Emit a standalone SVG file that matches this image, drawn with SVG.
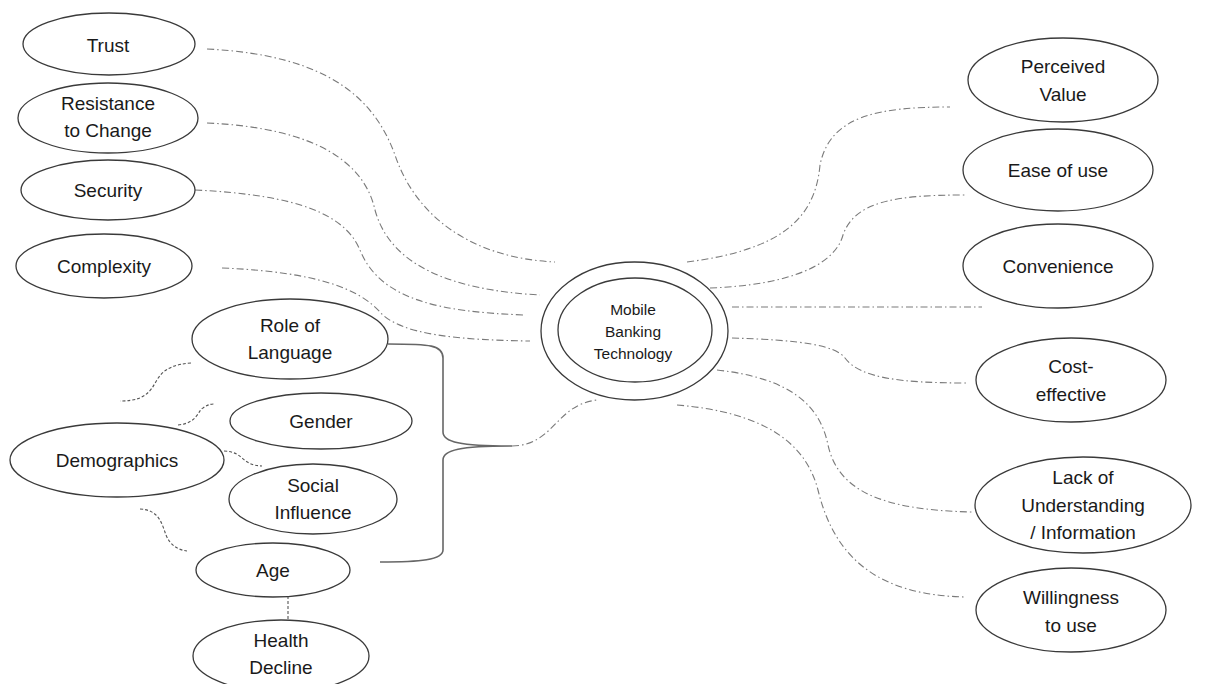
<svg xmlns="http://www.w3.org/2000/svg" width="1221" height="684" viewBox="0 0 1221 684">
<style>
.n ellipse{fill:#fff;stroke:#3a3a3a;stroke-width:1.3}
text{font-family:"Liberation Sans",Arial,sans-serif;font-size:19px;fill:#1a1a1a;text-anchor:middle}
.c text{font-size:15.5px}
.dd{fill:none;stroke:#7a7a7a;stroke-width:1.1;stroke-dasharray:7 3 1.5 3}
.ds{fill:none;stroke:#555;stroke-width:1.1;stroke-dasharray:3 2}
.br{fill:none;stroke:#666;stroke-width:1.6}
</style>
<rect width="1221" height="684" fill="#fff"/>
<g id="connectors">
<path class="dd" d="M207,49 C330,55 375,100 395,155 C415,215 470,258 555,262"/>
<path class="dd" d="M207,123 C320,128 365,165 375,210 C390,265 450,290 540,295"/>
<path class="dd" d="M195,190 C300,195 345,215 360,250 C380,300 440,312 525,315"/>
<path class="dd" d="M222,268 C320,272 360,290 380,312 C400,335 460,340 530,341"/>
<path class="dd" d="M687,262 C780,250 815,220 820,165 C830,115 880,107 950,107"/>
<path class="dd" d="M710,288 C790,285 835,265 843,235 C855,200 900,195 965,195"/>
<path class="dd" d="M732,307 L982,307"/>
<path class="dd" d="M732,338 C800,340 835,345 845,358 C860,378 900,383 967,383"/>
<path class="dd" d="M717,370 C790,378 820,405 828,445 C838,490 880,510 972,512"/>
<path class="dd" d="M677,405 C760,412 805,440 818,490 C835,560 880,595 965,597"/>
<path class="dd" d="M512,446 C555,445 555,405 597,400"/>
<path class="br" d="M388,344 C430,344 443,345 443,358 L443,432 C443,442 460,446 512,446 C460,446 443,450 443,460 L443,550 C443,560 420,562 380,562"/>
<path class="ds" d="M191,363 C160,365 158,380 152,388 C145,398 135,401 120,401"/>
<path class="ds" d="M178,425 C198,423 198,410 203,408 C207,405 210,404 215,404"/>
<path class="ds" d="M224,451 C245,452 240,465 262,466"/>
<path class="ds" d="M140,509 C160,510 162,525 166,535 C170,545 178,550 187,551"/>
<path class="ds" d="M288,596 L288,620"/>
</g>
<g id="center" class="n c">
<ellipse cx="634.5" cy="331" rx="93.5" ry="69"/>
<ellipse cx="635" cy="330" rx="77" ry="52"/>
<text x="633" y="315">Mobile</text>
<text x="633" y="337">Banking</text>
<text x="633" y="359">Technology</text>
</g>
<g id="trust" class="n"><ellipse cx="109" cy="44" rx="86" ry="31"/><text x="108" y="52">Trust</text></g>
<g id="resistance" class="n"><ellipse cx="108" cy="118" rx="90" ry="35"/><text x="108" y="110">Resistance</text><text x="108" y="137">to Change</text></g>
<g id="security" class="n"><ellipse cx="108" cy="190" rx="87" ry="30"/><text x="108" y="197">Security</text></g>
<g id="complexity" class="n"><ellipse cx="104" cy="266" rx="88" ry="32"/><text x="104" y="273">Complexity</text></g>
<g id="language" class="n"><ellipse cx="290" cy="339" rx="98" ry="40"/><text x="290" y="332">Role of</text><text x="290" y="359">Language</text></g>
<g id="gender" class="n"><ellipse cx="321" cy="421" rx="91" ry="28"/><text x="321" y="428">Gender</text></g>
<g id="demographics" class="n"><ellipse cx="117" cy="460" rx="107" ry="37"/><text x="117" y="467">Demographics</text></g>
<g id="social" class="n"><ellipse cx="313" cy="499" rx="84" ry="35"/><text x="313" y="492">Social</text><text x="313" y="519">Influence</text></g>
<g id="age" class="n"><ellipse cx="273" cy="570" rx="77" ry="27"/><text x="273" y="577">Age</text></g>
<g id="health" class="n"><ellipse cx="281" cy="656" rx="88" ry="36"/><text x="281" y="647">Health</text><text x="281" y="674">Decline</text></g>
<g id="perceived" class="n"><ellipse cx="1063" cy="80" rx="95" ry="42"/><text x="1063" y="73">Perceived</text><text x="1063" y="101">Value</text></g>
<g id="ease" class="n"><ellipse cx="1058" cy="170" rx="95" ry="41"/><text x="1058" y="177">Ease of use</text></g>
<g id="convenience" class="n"><ellipse cx="1058" cy="266" rx="95" ry="42"/><text x="1058" y="273">Convenience</text></g>
<g id="cost" class="n"><ellipse cx="1071" cy="380" rx="95" ry="42"/><text x="1071" y="373">Cost-</text><text x="1071" y="401">effective</text></g>
<g id="lack" class="n"><ellipse cx="1083" cy="505" rx="108" ry="48"/><text x="1083" y="484">Lack of</text><text x="1083" y="512">Understanding</text><text x="1083" y="539">/ Information</text></g>
<g id="willingness" class="n"><ellipse cx="1071" cy="610" rx="95" ry="42"/><text x="1071" y="604">Willingness</text><text x="1071" y="632">to use</text></g>
</svg>
